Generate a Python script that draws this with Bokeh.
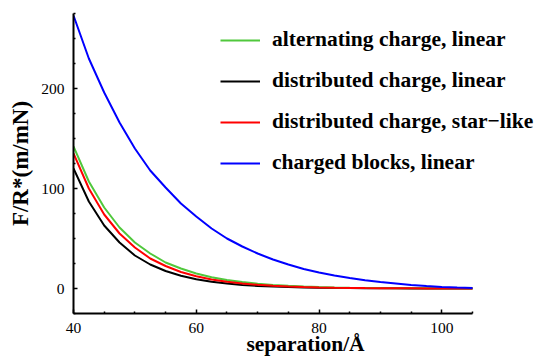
from bokeh.plotting import figure
from bokeh.models import Range1d, FixedTicker, Legend, LegendItem
from bokeh.embed import file_html
from bokeh.resources import INLINE

# ---- data ----
separation = [40, 42.5, 45, 47.5, 50, 52.5, 55, 57.5, 60, 62.5, 65, 67.5, 70,
              72.5, 75, 77.5, 80, 82.5, 85, 87.5, 90, 92.5, 95, 97.5, 100, 102.5, 105]
alternating_linear = [142, 107, 81, 61, 46, 35, 26, 20, 15, 11.3, 8.5, 6.4, 4.8,
                      3.6, 2.7, 2.0, 1.5, 1.1, 0.8, 0.6, 0.4, 0.3, 0.2, 0.15, 0.1, 0.07, 0.05]
distributed_linear = [120, 87, 63, 46, 33, 24, 17.5, 12.7, 9.2, 6.7, 4.9, 3.5, 2.6,
                      1.9, 1.4, 1.0, 0.7, 0.5, 0.4, 0.3, 0.2, 0.15, 0.1, 0.07, 0.05, 0.04, 0.03]
distributed_star = [135, 100, 74, 55, 41, 30, 22.5, 16.5, 12.3, 9.1, 6.7, 5.0, 3.7,
                    2.7, 2.0, 1.5, 1.1, 0.8, 0.6, 0.4, 0.3, 0.2, 0.15, 0.1, 0.08, 0.06, 0.04]
blocks_linear = [273, 230, 196, 166, 140, 118, 101, 85, 72, 60, 50, 42, 35,
                 29, 24, 19.5, 16, 13, 10.5, 8.3, 6.5, 5.0, 3.5, 2.5, 1.6, 0.9, 0.4]

series_names = ["alternating charge, linear", "distributed charge, linear",
                "distributed charge, star\u2212like", "charged blocks, linear"]
series_colors = ["#50c83c", "#000000", "#ff0000", "#0000ff"]

x_major = [40, 60, 80, 100]
x_minor = [45, 50, 55, 65, 70, 75, 85, 90, 95, 105]
y_major = [0, 100, 200]
y_minor = [-25, 25, 50, 75, 125, 150, 175, 225, 250, 275]
x_axis_span = (40, 105)
y_axis_span = (-25, 275)

W, H = 537, 358
LEFT, RIGHT_AXIS_END, TOP, BOTTOM = 73, 472, 13, 316
# frame runs to the right edge so the legend is not clipped; axis drawn only 40..105
x_end = x_axis_span[0] + (x_axis_span[1] - x_axis_span[0]) * (W - LEFT) / (RIGHT_AXIS_END - LEFT)

p = figure(width=W, height=H, x_range=Range1d(x_axis_span[0], x_end),
           y_range=Range1d(*y_axis_span),
           toolbar_location=None, output_backend="svg",
           min_border_left=LEFT, min_border_right=0, min_border_top=TOP,
           min_border_bottom=H - BOTTOM)
p.outline_line_color = None
p.xgrid.visible = False
p.ygrid.visible = False

for ax, maj, mn in ((p.xaxis[0], x_major, x_minor), (p.yaxis[0], y_major, y_minor)):
    ax.ticker = FixedTicker(ticks=maj, minor_ticks=mn)
    ax.axis_line_width = 2
    ax.major_tick_line_width = 1.5
    ax.minor_tick_line_width = 1.5
    ax.major_tick_in = 4
    ax.major_tick_out = 0
    ax.minor_tick_in = 2
    ax.minor_tick_out = 0
    ax.major_label_text_font = "Liberation Serif"
    ax.major_label_text_font_size = "15.5px"
    ax.major_label_text_color = "#000000"
    ax.major_label_standoff = 9
    ax.axis_label_text_font = "Liberation Serif"
    ax.axis_label_text_font_style = "bold"
    ax.axis_label_text_color = "#000000"

p.xaxis[0].bounds = x_axis_span
p.xaxis[0].axis_label = "separation/\u00c5"
p.xaxis[0].axis_label_text_font_size = "21.5px"
p.xaxis[0].axis_label_standoff = -4
p.yaxis[0].axis_label = "F/R*(m/mN)"
p.yaxis[0].axis_label_text_font_size = "23px"
p.yaxis[0].axis_label_standoff = 5

vals = [alternating_linear, distributed_linear, distributed_star, blocks_linear]
renderers = {}
for idx in (1, 0, 2, 3):
    renderers[idx] = p.line(separation, vals[idx], line_color=series_colors[idx], line_width=2)

items = [LegendItem(label=series_names[i], renderers=[renderers[i]]) for i in range(4)]
legend = Legend(items=items, location=(147, 138), glyph_width=40, glyph_height=20,
                label_height=20, spacing=16, padding=0, margin=0, label_standoff=12,
                border_line_alpha=0, background_fill_alpha=0,
                label_text_font="Liberation Serif", label_text_font_style="bold",
                label_text_font_size="21.5px", label_text_color="#000000")
p.add_layout(legend)

open("out.html", "w").write(file_html(p, INLINE))
